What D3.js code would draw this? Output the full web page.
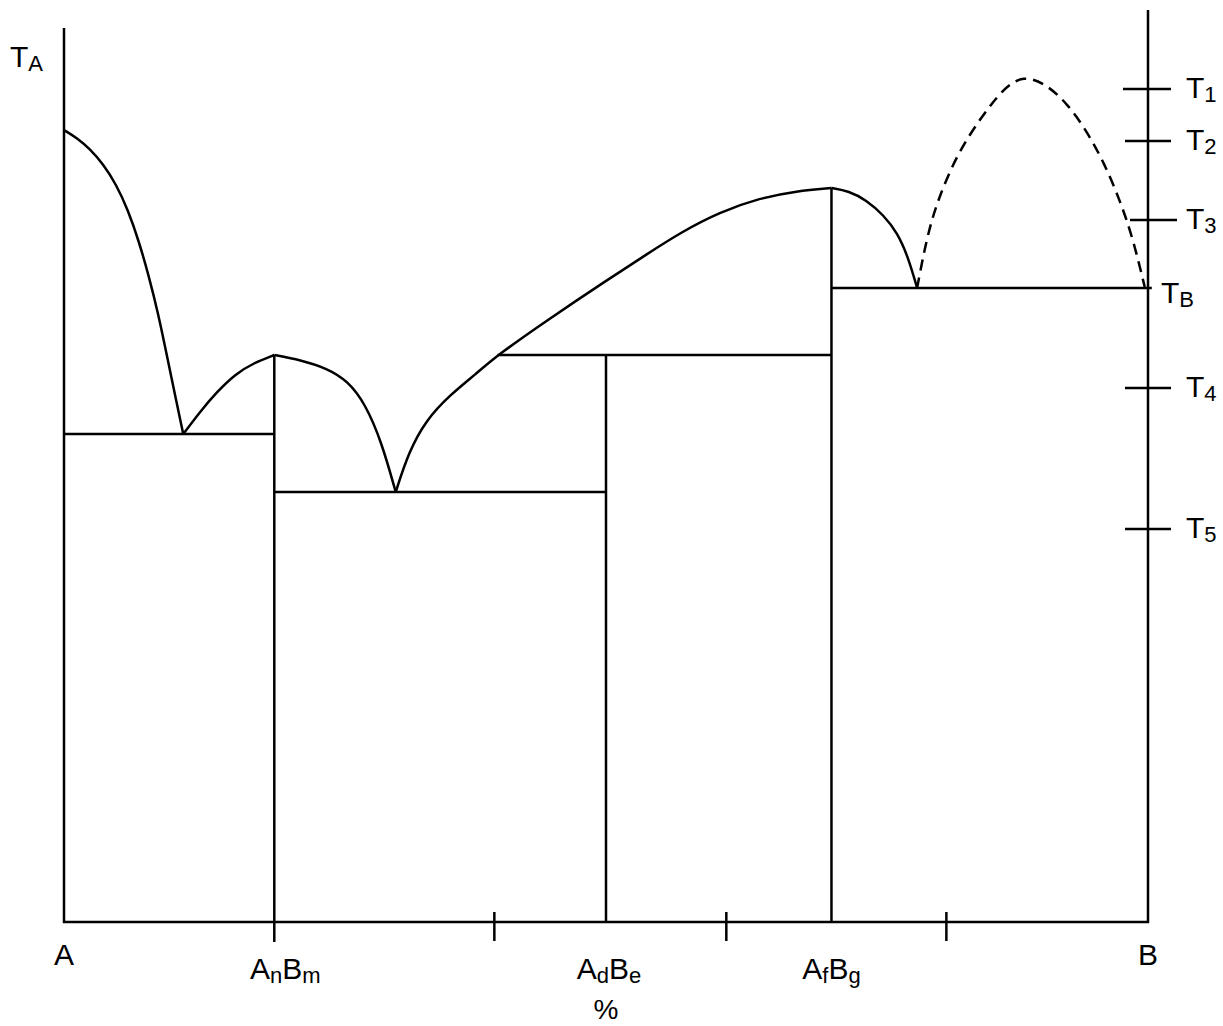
<!DOCTYPE html>
<html>
<head>
<meta charset="utf-8">
<script src="https://d3js.org/d3.v7.min.js"></script>
<style>
  body { margin: 0; background: #fff; }
  text { font-family: "Liberation Sans", Arial, sans-serif; fill: #000; }
</style>
</head>
<body>
<div id="chart"></div>
<script>
// composition in % B (0 = pure A, 100 = pure B), temperature in arbitrary units
var liquidusA = [[0,792],[1.2,784],[2.4,773],[3.6,758],[4.8,738],[5.9,712],[6.9,681],[7.8,647],[8.7,608],[9.5,566],[10.3,524],[11.0,488]];
var liquidusNM1 = [[11.0,488],[12.6,511],[14.1,530],[15.8,548],[17.5,559],[19.4,567]];
var liquidusNM2 = [[19.4,567],[21.8,562],[24.2,554],[26.2,541],[27.8,518],[29.3,480],[30.6,430]];
var liquidusDE = [[30.6,430],[31.8,470],[33.4,502],[35.6,527],[38.0,548],[40.0,567],[44.6,602],[50.1,642],[53.8,668],[56.8,689],[60.5,710],[64.2,724],[67.6,731],[70.8,734]];
var liquidusFG = [[70.8,734],[72.4,731],[74.0,722],[75.6,707],[76.9,689],[77.9,664],[78.7,634]];
var gapCurve = [[78.7,634],[79.6,685],[80.6,722],[82.4,768],[84.5,803],[86.6,833],[88.5,847],[90.6,838],[92.6,818],[94.4,790],[96.0,758],[97.4,722],[98.6,684],[99.7,635]];

// invariant lines: [from comp, to comp, temperature]
var isotherms = [[0,19.4,488],[19.4,50,430],[40.0,70.8,567],[70.8,100.35,634]];
// compound lines: [comp, top temperature, bottom temperature]
var compounds = [[19.4,567,-20],[50,567,0],[70.8,734,0]];
var axisTicks = [39.7, 61.1, 81.4];

var bottomLabels = [
  {comp: 0, parts: [["A", false]]},
  {comp: 19.4, parts: [["A", false],["n", true],["B", false],["m", true]]},
  {comp: 50, parts: [["A", false],["d", true],["B", false],["e", true]]},
  {comp: 70.8, parts: [["A", false],["f", true],["B", false],["g", true]]},
  {comp: 100, parts: [["B", false]]}
];
var tempNames = ["1","2","3","4","5"];
var tempValues = [833, 781, 702, 534, 393];
var tempA = 855;
var tempB = 634;

var width = 1223, height = 1026;
var svg = d3.select("#chart").append("svg")
  .attr("width", width)
  .attr("height", height);

var x = d3.scaleLinear().domain([0, 100]).range([64, 1148]);
var y = d3.scaleLinear().domain([0, 912]).range([922, 10]);

var line = d3.line()
  .x(function(d){ return x(d[0]); })
  .y(function(d){ return y(d[1]); })
  .curve(d3.curveBasis);

function stroke(sel) {
  return sel.attr("stroke", "#000").attr("stroke-width", 2.5).attr("fill", "none");
}

// axes frame
stroke(svg.append("line")).attr("x1", x(0)).attr("x2", x(0)).attr("y1", 28).attr("y2", y(0) + 1);
stroke(svg.append("line")).attr("x1", x(100)).attr("x2", x(100)).attr("y1", 10).attr("y2", y(0) + 1);
stroke(svg.append("line")).attr("x1", x(0) - 1).attr("x2", x(100) + 1).attr("y1", y(0)).attr("y2", y(0));

// bottom ticks
svg.selectAll(".btick").data(axisTicks).enter().append("line")
  .attr("class", "btick")
  .call(stroke)
  .attr("x1", function(d){ return x(d); }).attr("x2", function(d){ return x(d); })
  .attr("y1", y(0) - 10).attr("y2", y(0) + 19);

// liquidus curves
[liquidusA, liquidusNM1, liquidusNM2, liquidusDE, liquidusFG].forEach(function(c){
  stroke(svg.append("path")).attr("d", line(c));
});
stroke(svg.append("path")).attr("d", line(gapCurve)).attr("stroke-dasharray", "11,7");

// isotherms
svg.selectAll(".iso").data(isotherms).enter().append("line")
  .attr("class", "iso")
  .call(stroke)
  .attr("x1", function(d){ return x(d[0]); }).attr("x2", function(d){ return x(d[1]); })
  .attr("y1", function(d){ return y(d[2]); }).attr("y2", function(d){ return y(d[2]); });

// compound verticals
svg.selectAll(".cmp").data(compounds).enter().append("line")
  .attr("class", "cmp")
  .call(stroke)
  .attr("x1", function(d){ return x(d[0]); }).attr("x2", function(d){ return x(d[0]); })
  .attr("y1", function(d){ return y(d[1]); }).attr("y2", function(d){ return y(d[2]); });

// right temperature ticks
svg.selectAll(".rtick").data(tempValues).enter().append("line")
  .attr("class", "rtick")
  .call(stroke)
  .attr("x1", function(d, i){ return x(100) - (i == 0 ? 25 : i == 2 ? 18 : 23); })
  .attr("x2", function(d, i){ return x(100) + (i == 2 ? 29 : 23); })
  .attr("y1", function(d){ return y(d); }).attr("y2", function(d){ return y(d); });

function subText(g, parts, size, subSize) {
  var t = g.append("text").attr("font-size", size);
  var down = false;
  parts.forEach(function(p){
    var s = t.append("tspan").text(p[0]);
    if (p[1]) { s.attr("font-size", subSize).attr("dy", down ? 0 : 4); down = true; }
    else { s.attr("dy", down ? -4 : 0); down = false; }
  });
  return t;
}

// right labels
tempValues.forEach(function(v, i){
  subText(svg, [["T", false],[tempNames[i], true]], 30, 22)
    .attr("x", 1186).attr("y", y(v) + 9);
});
subText(svg, [["T", false],["B", true]], 30, 22).attr("x", 1161).attr("y", y(tempB) + 15);
subText(svg, [["T", false],["A", true]], 30, 22).attr("x", 10).attr("y", y(tempA));

// bottom labels
bottomLabels.forEach(function(l){
  subText(svg, l.parts, 30, 22)
    .attr("text-anchor", "middle")
    .attr("x", x(l.comp) + (l.comp == 19.4 ? 11 : l.comp == 50 ? 3 : 0))
    .attr("y", l.parts.length > 1 ? 979 : 965);
});
svg.append("text").attr("font-size", 28).attr("text-anchor", "middle")
  .attr("x", x(50)).attr("y", 1019).text("%");
</script>
</body>
</html>
